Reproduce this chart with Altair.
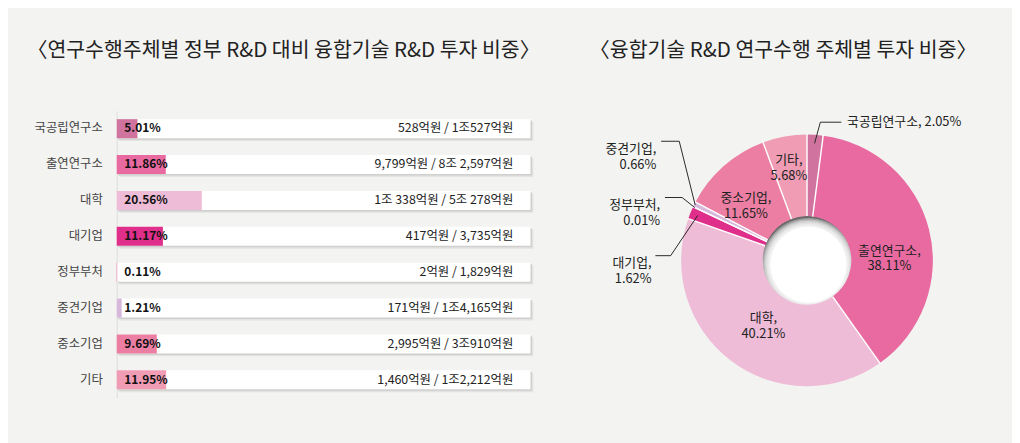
import altair as alt
import pandas as pd
import numpy as np

FONT = "Noto Sans CJK KR"

# ---------------- data ----------------
categories = ["국공립연구소", "출연연구소", "대학", "대기업", "정부부처", "중견기업", "중소기업", "기타"]
bar_pct = [5.01, 11.86, 20.56, 11.17, 0.11, 1.21, 9.69, 11.95]
amount_labels = [
    "528억원 / 1조527억원",
    "9,799억원 / 8조 2,597억원",
    "1조 338억원 / 5조 278억원",
    "417억원 / 3,735억원",
    "2억원 / 1,829억원",
    "171억원 / 1조4,165억원",
    "2,995억원 / 3조910억원",
    "1,460억원 / 1조2,212억원",
]
pie_share = [2.05, 38.11, 40.21, 1.62, 0.01, 0.66, 11.65, 5.68]
colors = ["#d0739f", "#e96aa0", "#efbcd8", "#df2f8a", "#e3589a", "#d7b8dd", "#ec7ea3", "#ef9cb4"]

title_left = "〈연구수행주체별 정부 R&D 대비 융합기술 R&D 투자 비중〉"
title_right = "〈융합기술 R&D 연구수행 주체별 투자 비중〉"

# ---------------- styles ----------------
BG = "#f3f3f1"
BW, BH = 434, 301
PW, PH = 264, 314
R_OUT, R_IN = 132, 46.5
LH = 16.5
PIE_FS = 13.5
TITLE_FS = 21.5
TITLE_OFFSET = 52

color_scale = alt.Scale(domain=categories, range=colors)

# ---------------- left panel ----------------
bar_df = pd.DataFrame({"cat": categories, "pct": bar_pct, "amount": amount_labels})
bar_df["pct_label"] = [f"{v:.2f}%" for v in bar_pct]
bar_df["full"] = 100.0

y_enc = alt.Y(
    "cat:N", sort=categories,
    scale=alt.Scale(paddingInner=0, paddingOuter=0),
    axis=alt.Axis(title=None, ticks=False, labelFontSize=13, labelColor="#444",
                  labelPadding=15, domainColor="#dcdcdc", domainWidth=1),
)
x_scale = alt.Scale(domain=[0, 100], nice=False)

base = alt.Chart(bar_df)
shadow2 = base.mark_bar(size=20, color="#e3e3e1", xOffset=3, x2Offset=3, yOffset=3, y2Offset=3).encode(
    y=y_enc, x=alt.X("full:Q", scale=x_scale, axis=None))
shadow1 = base.mark_bar(size=20, color="#cfcfcd", xOffset=1.5, x2Offset=1.5, yOffset=1.5, y2Offset=1.5).encode(
    y=y_enc, x=alt.X("full:Q", scale=x_scale, axis=None))
white = base.mark_bar(size=20, color="white").encode(
    y=y_enc, x=alt.X("full:Q", scale=x_scale, axis=None))
colored = base.mark_bar(size=20).encode(
    y=y_enc, x=alt.X("pct:Q", scale=x_scale, axis=None),
    color=alt.Color("cat:N", scale=color_scale, legend=None))
pct_text = base.mark_text(align="left", dx=8, fontSize=12.5, fontWeight="bold", color="#111").encode(
    y=y_enc, x=alt.value(0), text="pct_label:N")
amt_text = base.mark_text(align="right", dx=-18, fontSize=13, color="#222").encode(
    y=y_enc, x=alt.X("full:Q", scale=x_scale, axis=None), text="amount:N")

left = alt.layer(shadow2, shadow1, white, colored, pct_text, amt_text).properties(
    width=BW, height=BH,
    title=alt.TitleParams(title_left, fontSize=TITLE_FS, fontWeight="normal", color="#222",
                          anchor="middle", offset=TITLE_OFFSET, dx=-42),
)

# ---------------- right panel (donut) ----------------
cx, cy = PW / 2, PH / 2
share = np.array(pie_share)
total = share.sum()
start = np.cumsum(share) - share
mid_ang = (start + share / 2) / total * 2 * np.pi
start_ang = start / total * 2 * np.pi

pie_df = pd.DataFrame({"cat": categories, "share": pie_share, "order": list(range(len(categories)))})

INNER = {"출연연구소": (87, 7.4), "대학": (76, 0), "중소기업": (91.5, -3), "기타": (107, 0)}
OUTER = {
    "국공립연구소": dict(r=123, elbow=(14, -145), end=(36, -145), text=(42, -145), align="left"),
    "중견기업": dict(r=131, elbow=(-134, -125), end=(-153, -125), text=(-158, -125), align="right"),
    "정부부처": dict(r=130, elbow=(-131, -66), end=(-149, -66), text=(-154, -66), align="right"),
    "대기업": dict(r=124, elbow=(-143, -5), end=(-159, -5), text=(-163, -5), align="right"),
}

lab_rows, line_rows = [], []
for i, c in enumerate(categories):
    if c in INNER:
        r, nudge = INNER[c]
        a = mid_ang[i] + np.radians(nudge)
        lab_rows.append(dict(x=cx + r * np.sin(a), y=cy - r * np.cos(a),
                             t=f"{c},\n{pie_share[i]:.2f}%", align="center"))
    elif c in OUTER:
        o = OUTER[c]
        a = mid_ang[i]
        ax, ay = cx + o["r"] * np.sin(a), cy - o["r"] * np.cos(a)
        ex, ey = cx + o["elbow"][0], cy + o["elbow"][1]
        fx, fy = cx + o["end"][0], cy + o["end"][1]
        line_rows.append(dict(x=ax, y=ay, x2=ex, y2=ey))
        line_rows.append(dict(x=ex, y=ey, x2=fx, y2=fy))
        if o["align"] == "left":
            t = f"{c}, {pie_share[i]:.2f}%"
            ty = cy + o["text"][1]
        else:
            t = f"{c},\n{pie_share[i]:.2f}%"
            ty = cy + o["text"][1] + LH / 2
        lab_rows.append(dict(x=cx + o["text"][0], y=ty, t=t, align=o["align"]))

lab_df = pd.DataFrame(lab_rows)
line_df = pd.DataFrame(line_rows)
sep_df = pd.DataFrame({
    "x": cx + R_IN * np.sin(start_ang), "y": cy - R_IN * np.cos(start_ang),
    "x2": cx + (R_OUT + 1) * np.sin(start_ang), "y2": cy - (R_OUT + 1) * np.cos(start_ang),
})

# inner-hole shading: a grey disc, then soft white discs shifted down-right (inset shadow)
HOLE_SHIFT = (1.5, 4.5)


def disk(r, color, opacity=1.0, dx=0.0, dy=0.0):
    return alt.Chart(pie_df).transform_aggregate(tot="sum(share)").mark_arc(
        innerRadius=0, outerRadius=r, color=color, opacity=opacity).encode(
        theta=alt.Theta("tot:Q", stack=True),
        x=alt.value(cx + dx), y=alt.value(cy + dy))


hole = [disk(R_IN + 0.5, "#6a6a6a")]
for rr in [49, 47.5, 46, 44.5, 43, 41.5]:
    hole.append(disk(rr, "white", 0.33, *HOLE_SHIFT))
hole.append(disk(40, "white", 1.0, *HOLE_SHIFT))

arcs = alt.Chart(pie_df).mark_arc(innerRadius=R_IN, outerRadius=R_OUT).encode(
    theta=alt.Theta("share:Q", stack=True),
    color=alt.Color("cat:N", scale=color_scale, legend=None),
    order=alt.Order("order:Q", sort="ascending"),
)
seps = alt.Chart(sep_df).mark_rule(color="white", strokeWidth=1.5).encode(
    x=alt.X("x:Q", scale=None), y=alt.Y("y:Q", scale=None), x2="x2:Q", y2="y2:Q")
leaders = alt.Chart(line_df).mark_rule(color="#222", strokeWidth=1).encode(
    x=alt.X("x:Q", scale=None), y=alt.Y("y:Q", scale=None), x2="x2:Q", y2="y2:Q")

texts = []
for al in ["left", "center", "right"]:
    sub = lab_df[lab_df["align"] == al].drop(columns=["align"])
    if len(sub):
        texts.append(alt.Chart(sub).mark_text(align=al, baseline="middle", fontSize=PIE_FS, color="#222",
                                              lineBreak="\n", lineHeight=LH).encode(
            x=alt.X("x:Q", scale=None), y=alt.Y("y:Q", scale=None), text="t:N"))

right = alt.layer(*hole, arcs, seps, leaders, *texts).properties(
    width=PW, height=PH,
    title=alt.TitleParams(title_right, fontSize=TITLE_FS, fontWeight="normal", color="#222",
                          anchor="middle", offset=TITLE_OFFSET, dx=-25),
)

chart = alt.hconcat(left, right, spacing=50).properties(
    padding={"left": 19, "top": 23, "right": 36, "bottom": 30},
    background=BG,
).configure(font=FONT).configure_view(stroke=None)

chart.save("out.html", embed_options={"renderer": "svg", "actions": False})
